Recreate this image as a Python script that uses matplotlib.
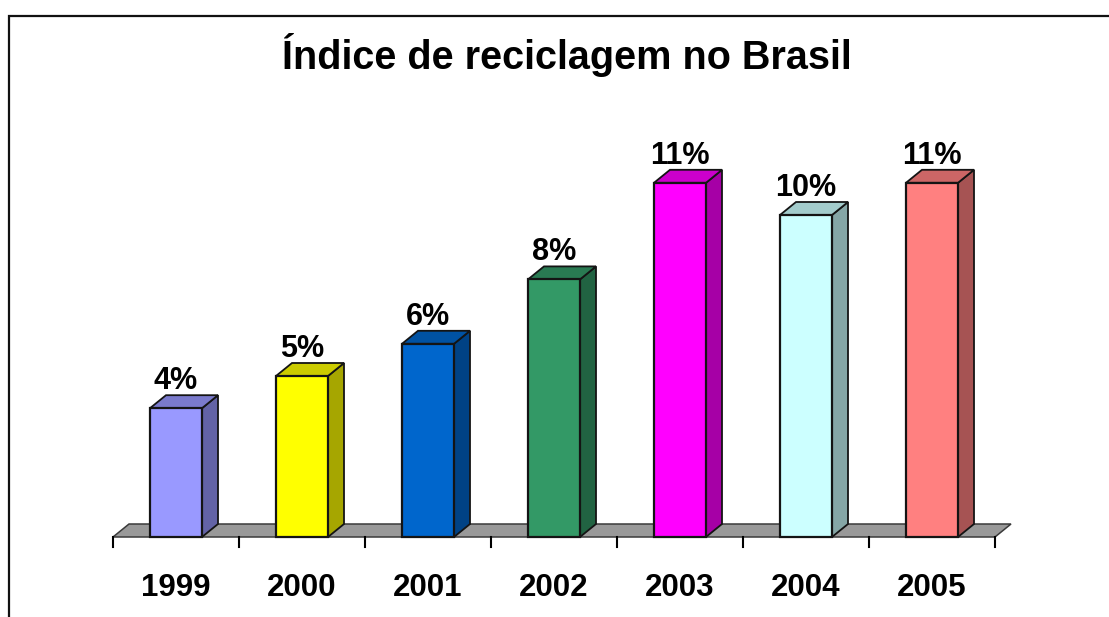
import numpy as np
import matplotlib.pyplot as plt
from matplotlib.patches import Rectangle, Polygon
from matplotlib.colors import to_rgb

anos = ["1999", "2000", "2001", "2002", "2003", "2004", "2005"]
indice = [4, 5, 6, 8, 11, 10, 11]
rotulos = ["4%", "5%", "6%", "8%", "11%", "10%", "11%"]
cores = ["#9999FF", "#FFFF00", "#0066CC", "#339966", "#FF00FF", "#CCFFFF", "#FF8080"]

plt.rcParams['font.family'] = ['Liberation Sans', 'DejaVu Sans']

W, H = 1109, 617
f = plt.figure(figsize=(W / 100, H / 100), dpi=100)

# axes: x from -0.5..6.5 maps to px 113..995, y=0 at px 537, 32.2 px per %
x0, x1 = 113, 995
ybase = 537
ppu = 32.2
ytop = 13
ax = f.add_axes([x0 / W, (H - ybase) / H, (x1 - x0) / W, ytop * ppu / H])
ax.set_xlim(-0.5, 6.5)
ax.set_ylim(0, ytop)
ax.axis('off')

dx = 16 / 126
dy = 13 / ppu
w = 52 / 126

def escurece(c, k):
    r, g, b = to_rgb(c)
    return (r * k, g * k, b * k)

# piso
n = len(anos)
piso = Polygon([(-0.5, 0), (n - 0.5, 0), (n - 0.5 + dx, dy), (-0.5 + dx, dy)],
               closed=True, facecolor="#999999", edgecolor="#3a3a3a", lw=1.1,
               zorder=1, clip_on=False)
ax.add_patch(piso)

# marcas no eixo
for b in np.arange(-0.5, n, 1.0):
    ax.plot([b, b], [0, -10 / ppu], color="black", lw=1.5, clip_on=False, zorder=1)

ec = "#141414"
for i, v in enumerate(indice):
    xl = i - w / 2
    xr = i + w / 2
    lado = Polygon([(xr, 0), (xr + dx, dy), (xr + dx, v + dy), (xr, v)], closed=True,
                   facecolor=escurece(cores[i], 0.65), edgecolor=ec, lw=1.3, zorder=2,
                   clip_on=False)
    topo = Polygon([(xl, v), (xr, v), (xr + dx, v + dy), (xl + dx, v + dy)], closed=True,
                   facecolor=escurece(cores[i], 0.8), edgecolor=ec, lw=1.3, zorder=2,
                   clip_on=False)
    frente = Rectangle((xl, 0), w, v, facecolor=cores[i], edgecolor=ec, lw=1.6,
                       zorder=3, clip_on=False)
    ax.add_patch(lado)
    ax.add_patch(topo)
    ax.add_patch(frente)
    ax.text(i, v + dy + 6 / ppu, rotulos[i], ha='center', va='baseline',
            fontsize=22, fontweight='bold', clip_on=False)
    ax.text(i, -59 / ppu, anos[i], ha='center', va='baseline',
            fontsize=22.5, fontweight='bold', clip_on=False)

f.text(567 / W, (H - 69) / H, "Índice de reciclagem no Brasil", ha='center',
       va='baseline', fontsize=28.5, fontweight='bold')

# moldura
f.add_artist(Rectangle((9 / W, -0.1), 1.2, (H - 16) / H + 0.1, transform=f.transFigure,
                       fill=False, edgecolor="#111111", lw=1.6))

plt.savefig("out.png", dpi=100)
